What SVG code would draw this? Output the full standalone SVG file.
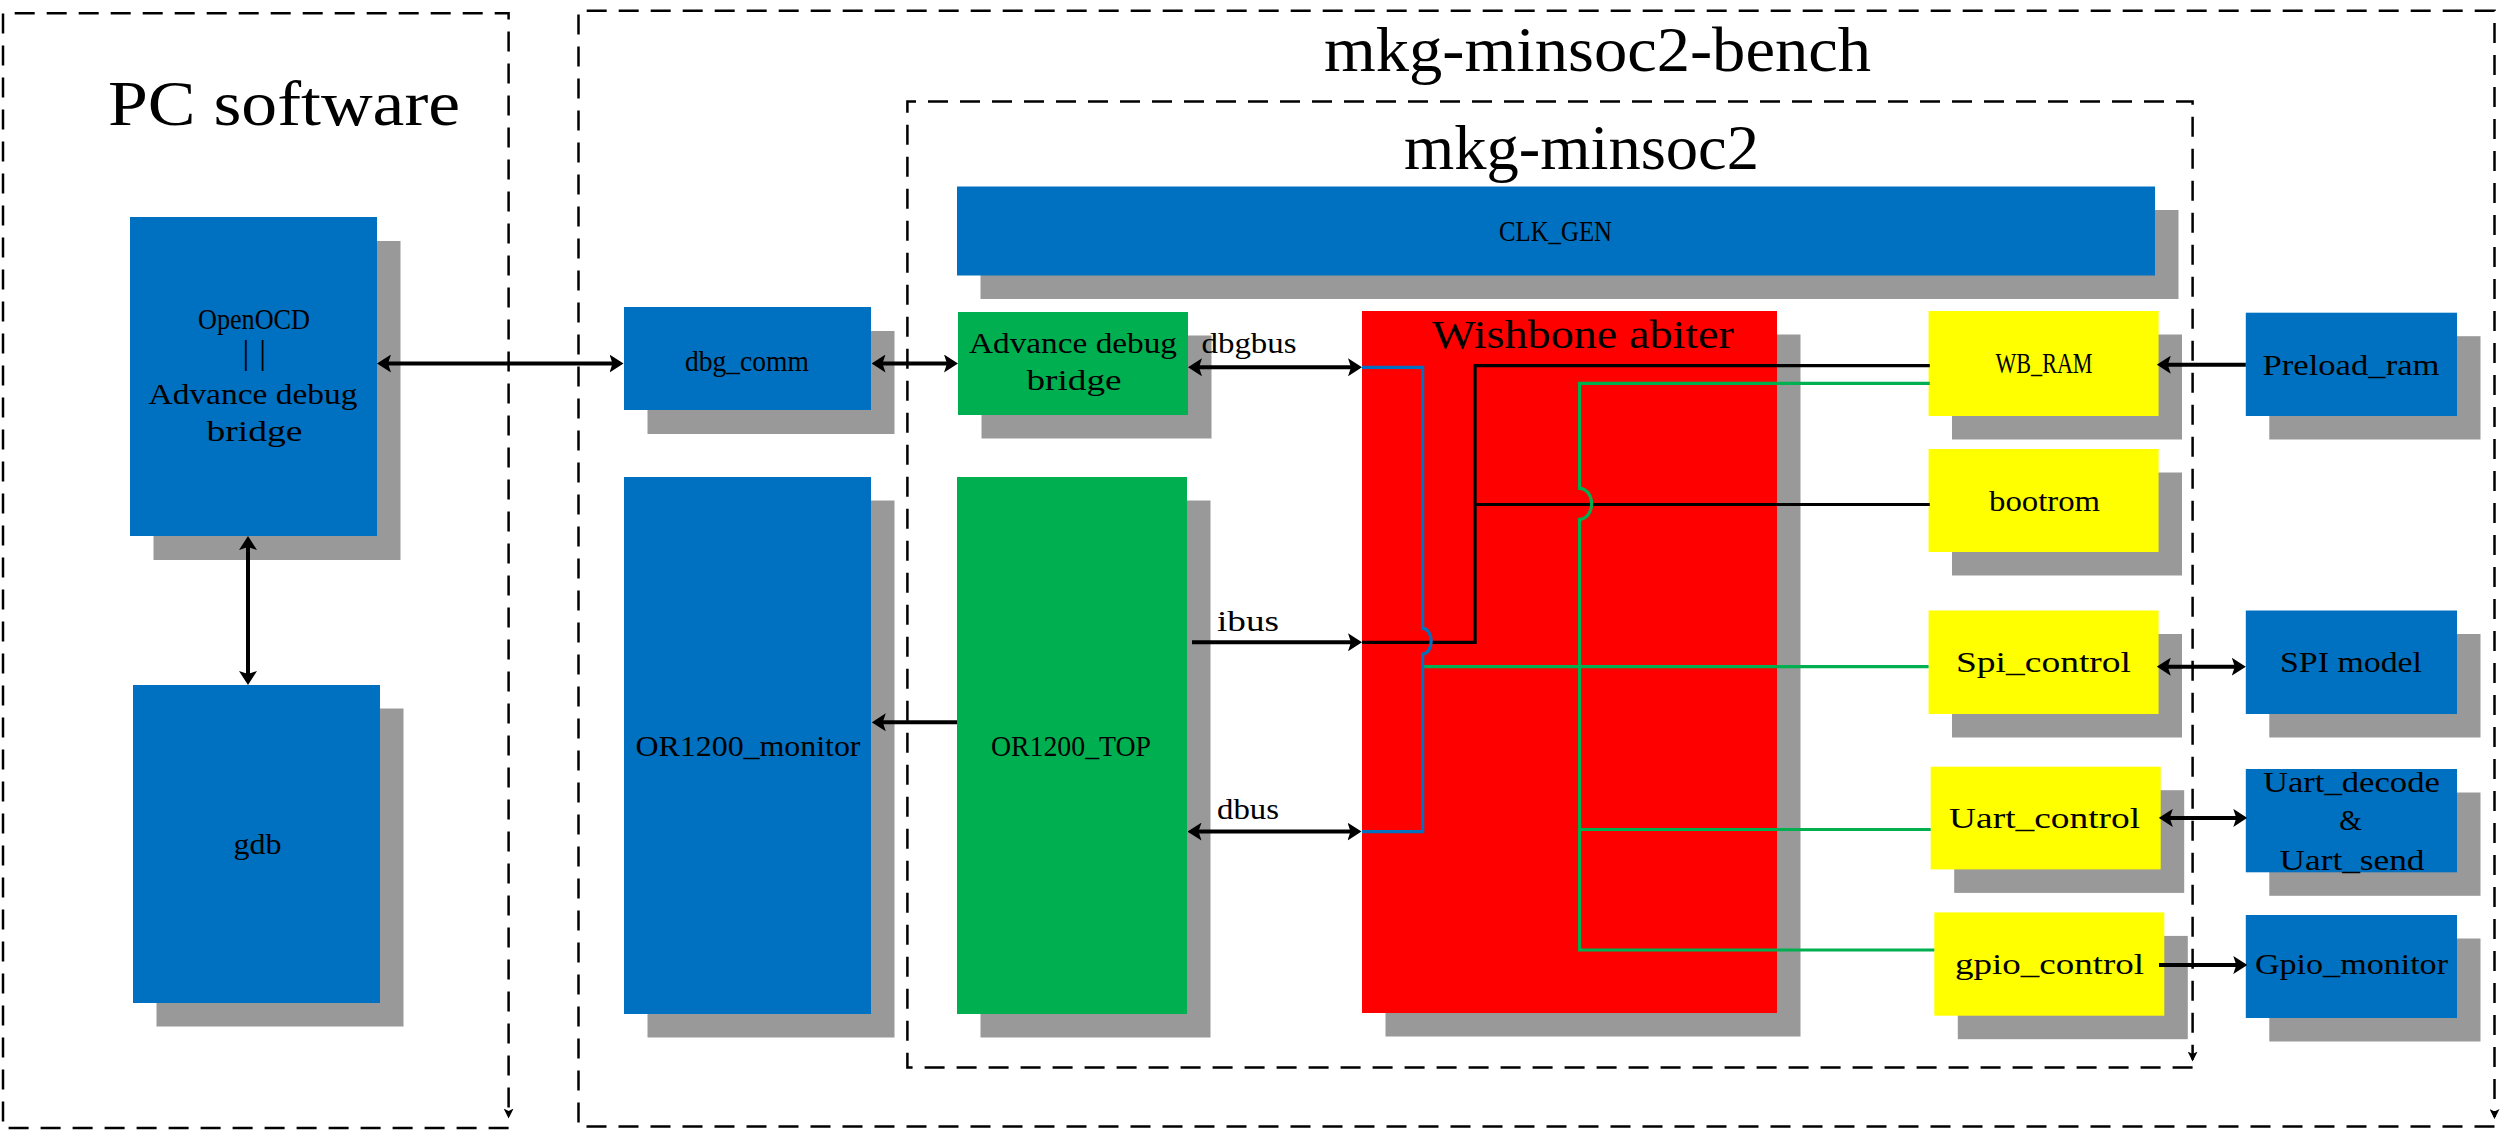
<svg xmlns="http://www.w3.org/2000/svg" width="2502" height="1131" viewBox="0 0 2502 1131">
<style>
.bg{fill:#ffffff}
.blue{fill:#0070C0}
.green{fill:#00B050}
.red{fill:#FF0000}
.yellow{fill:#FFFF00}
.shadow{fill:#999999}
.lbl{font-family:"Liberation Serif","Times New Roman",serif;font-size:29px;fill:#000;text-anchor:middle}
.big{font-family:"Liberation Serif","Times New Roman",serif;font-size:64px;fill:#000;text-anchor:middle}
.mid{font-family:"Liberation Serif","Times New Roman",serif;font-size:39px;fill:#000;text-anchor:middle}
.dash{fill:none;stroke:#000;stroke-width:2.5;stroke-dasharray:20 12}
.arrow{fill:none;stroke:#000;stroke-width:4}
.wire{fill:none;stroke-width:3.2}
.wk{stroke:#000}
.wg{stroke:#00B050}
.wb{stroke:#0070C0}
</style>
<defs>
<marker id="ah" markerUnits="userSpaceOnUse" markerWidth="14" markerHeight="18" viewBox="0 0 14 18" refX="10" refY="9" orient="auto-start-reverse">
<path d="M0,0 L14,9 L0,18 L3,9 z" fill="#000"/>
</marker>
<marker id="sm" markerUnits="userSpaceOnUse" markerWidth="10" markerHeight="10" viewBox="0 0 10 10" refX="8" refY="5" orient="auto">
<path d="M0,0 L10,5 L0,10 L2.5,5 z" fill="#000"/>
</marker>
</defs>
<rect class="bg" x="0" y="0" width="2502" height="1131"/>

<g id="pc-software">
<path class="dash" d="M508.6,1128 H3 V13.3 H508.6 V1116.5" marker-end="url(#sm)"/>
<text class="big" x="284" y="124.5" textLength="352" lengthAdjust="spacingAndGlyphs">PC software</text>
</g>
<g id="mkg-minsoc2-bench">
<path class="dash" d="M2494.5,1126.5 H578.5 V10.7 H2494.5 V1117" marker-end="url(#sm)"/>
<text class="big" x="1597.5" y="71" textLength="547" lengthAdjust="spacingAndGlyphs">mkg-minsoc2-bench</text>
</g>
<g id="mkg-minsoc2">
<path class="dash" d="M2192.6,1067.6 H907.4 V101.4 H2192.6 V1059.5" marker-end="url(#sm)"/>
<text class="big" x="1581.5" y="168.5" textLength="355" lengthAdjust="spacingAndGlyphs">mkg-minsoc2</text>
</g>

<g id="openocd">
<rect class="shadow" x="153.5" y="241" width="247" height="319"/>
<rect class="blue" x="130" y="217" width="247" height="319"/>
<text class="lbl" x="254" y="328.5" textLength="112" lengthAdjust="spacingAndGlyphs">OpenOCD</text>
<text class="lbl" x="242.6" y="363.6" style="text-anchor:start;font-size:34px" letter-spacing="9.9">||</text>
<text class="lbl" x="253" y="404" textLength="209" lengthAdjust="spacingAndGlyphs">Advance debug</text>
<text class="lbl" x="254.5" y="440.5" textLength="96" lengthAdjust="spacingAndGlyphs">bridge</text>
</g>
<g id="gdb">
<rect class="shadow" x="156.5" y="708.5" width="247" height="318"/>
<rect class="blue" x="133" y="685" width="247" height="318"/>
<text class="lbl" x="257.5" y="854" textLength="48" lengthAdjust="spacingAndGlyphs">gdb</text>
</g>
<g id="dbg_comm">
<rect class="shadow" x="647.5" y="331" width="247" height="103"/>
<rect class="blue" x="624" y="307" width="247" height="103"/>
<text class="lbl" x="747" y="370.5" textLength="124" lengthAdjust="spacingAndGlyphs">dbg_comm</text>
</g>
<g id="or1200_monitor">
<rect class="shadow" x="647.5" y="500.5" width="247" height="537"/>
<rect class="blue" x="624" y="477" width="247" height="537"/>
<text class="lbl" x="748" y="756" textLength="225" lengthAdjust="spacingAndGlyphs">OR1200_monitor</text>
</g>
<g id="clk_gen">
<rect class="shadow" x="980.5" y="210" width="1198" height="89"/>
<rect class="blue" x="957" y="186.5" width="1198" height="89"/>
<text class="lbl" x="1555.5" y="241" textLength="113" lengthAdjust="spacingAndGlyphs">CLK_GEN</text>
</g>
<g id="adv_debug_bridge">
<rect class="shadow" x="981.5" y="335.5" width="230" height="103"/>
<rect class="green" x="958" y="312" width="230" height="103"/>
<text class="lbl" x="1073" y="353" textLength="208" lengthAdjust="spacingAndGlyphs">Advance debug</text>
<text class="lbl" x="1074" y="390" textLength="95" lengthAdjust="spacingAndGlyphs">bridge</text>
</g>
<g id="or1200_top">
<rect class="shadow" x="980.5" y="500.5" width="230" height="537"/>
<rect class="green" x="957" y="477" width="230" height="537"/>
<text class="lbl" x="1071" y="756" textLength="160" lengthAdjust="spacingAndGlyphs">OR1200_TOP</text>
</g>
<g id="wishbone_abiter">
<rect class="shadow" x="1385.5" y="334.5" width="415" height="702"/>
<rect class="red" x="1362" y="311" width="415" height="702"/>
<text class="mid" x="1583" y="347.7" textLength="302" lengthAdjust="spacingAndGlyphs">Wishbone abiter</text>
</g>
<g id="wb_ram">
<rect class="shadow" x="1952" y="334.5" width="230" height="105"/>
<rect class="yellow" x="1928.6" y="311" width="230" height="105"/>
<text class="lbl" x="2044" y="373" textLength="97" lengthAdjust="spacingAndGlyphs">WB_RAM</text>
</g>
<g id="bootrom">
<rect class="shadow" x="1952" y="472.5" width="230" height="103"/>
<rect class="yellow" x="1928.6" y="449" width="230" height="103"/>
<text class="lbl" x="2044.5" y="511" textLength="111" lengthAdjust="spacingAndGlyphs">bootrom</text>
</g>
<g id="spi_control">
<rect class="shadow" x="1952" y="634" width="230" height="103.5"/>
<rect class="yellow" x="1928.6" y="610.5" width="230" height="103.5"/>
<text class="lbl" x="2043.5" y="672" textLength="175" lengthAdjust="spacingAndGlyphs">Spi_control</text>
</g>
<g id="uart_control">
<rect class="shadow" x="1954.2" y="790.2" width="230" height="102.7"/>
<rect class="yellow" x="1930.7" y="766.7" width="230" height="102.7"/>
<text class="lbl" x="2044.6" y="828" textLength="191" lengthAdjust="spacingAndGlyphs">Uart_control</text>
</g>
<g id="gpio_control">
<rect class="shadow" x="1957.8" y="935.9" width="230" height="103.3"/>
<rect class="yellow" x="1934.3" y="912.4" width="230" height="103.3"/>
<text class="lbl" x="2049.5" y="974" textLength="189" lengthAdjust="spacingAndGlyphs">gpio_control</text>
</g>
<g id="preload_ram">
<rect class="shadow" x="2269.3" y="336.2" width="211.2" height="103.3"/>
<rect class="blue" x="2245.8" y="312.7" width="211.2" height="103.3"/>
<text class="lbl" x="2351" y="375" textLength="177" lengthAdjust="spacingAndGlyphs">Preload_ram</text>
</g>
<g id="spi_model">
<rect class="shadow" x="2269.3" y="634" width="211.2" height="103.5"/>
<rect class="blue" x="2245.8" y="610.5" width="211.2" height="103.5"/>
<text class="lbl" x="2351" y="672" textLength="142" lengthAdjust="spacingAndGlyphs">SPI model</text>
</g>
<g id="uart_decode_send">
<rect class="shadow" x="2269.3" y="792.5" width="211.2" height="103.3"/>
<rect class="blue" x="2245.8" y="769" width="211.2" height="103.3"/>
<text class="lbl" x="2351.4" y="792" textLength="177" lengthAdjust="spacingAndGlyphs">Uart_decode</text>
<text class="lbl" x="2350.6" y="830">&amp;</text>
<text class="lbl" x="2352" y="870" textLength="145" lengthAdjust="spacingAndGlyphs">Uart_send</text>
</g>
<g id="gpio_monitor">
<rect class="shadow" x="2269.3" y="938.5" width="211.2" height="103"/>
<rect class="blue" x="2245.8" y="915" width="211.2" height="103"/>
<text class="lbl" x="2351.5" y="974" textLength="193" lengthAdjust="spacingAndGlyphs">Gpio_monitor</text>
</g>

<g id="connectors">
<path class="arrow" d="M381,363.5 H619.5" marker-start="url(#ah)" marker-end="url(#ah)"/>
<path class="arrow" d="M248,540 V681" marker-start="url(#ah)" marker-end="url(#ah)"/>
<path class="arrow" d="M875.5,363.5 H954" marker-start="url(#ah)" marker-end="url(#ah)"/>
<path class="arrow" d="M1192,367.3 H1358" marker-start="url(#ah)" marker-end="url(#ah)"/>
<path class="arrow" d="M1192,642.3 H1358" marker-end="url(#ah)"/>
<path class="arrow" d="M1191.5,831.6 H1357.5" marker-start="url(#ah)" marker-end="url(#ah)"/>
<path class="arrow" d="M957,722.3 H875.8" marker-end="url(#ah)"/>
<path class="arrow" d="M2245.8,364.7 H2160.8" marker-end="url(#ah)"/>
<path class="arrow" d="M2160.8,666.7 H2241.8" marker-start="url(#ah)" marker-end="url(#ah)"/>
<path class="arrow" d="M2162.8,817.9 H2243.3" marker-start="url(#ah)" marker-end="url(#ah)"/>
<path class="arrow" d="M2159,965 H2243.3" marker-end="url(#ah)"/>
<path class="wire wk" d="M1362,642.3 H1475.1 V365.7 H1929.8"/>
<path class="wire wk" d="M1475.1,504.5 H1929.8"/>
<path class="wire wg" d="M1929.8,383.3 H1579.6 V488.3 A12,15.5 0 0 1 1579.6,519.3 V950 H1934.3"/>
<path class="wire wg" d="M1579.6,829.5 H1930.7"/>
<path class="wire wg" d="M1422.7,666.7 H1928.6"/>
<path class="wire wb" d="M1362,367.3 H1422.7 V628.3 A8.5,12.85 0 0 1 1422.7,654 V831.6 H1362"/>
<text class="lbl" x="1249" y="353" textLength="95" lengthAdjust="spacingAndGlyphs">dbgbus</text>
<text class="lbl" x="1248" y="630.5" textLength="62" lengthAdjust="spacingAndGlyphs">ibus</text>
<text class="lbl" x="1248" y="819" textLength="62" lengthAdjust="spacingAndGlyphs">dbus</text>
</g>
</svg>
